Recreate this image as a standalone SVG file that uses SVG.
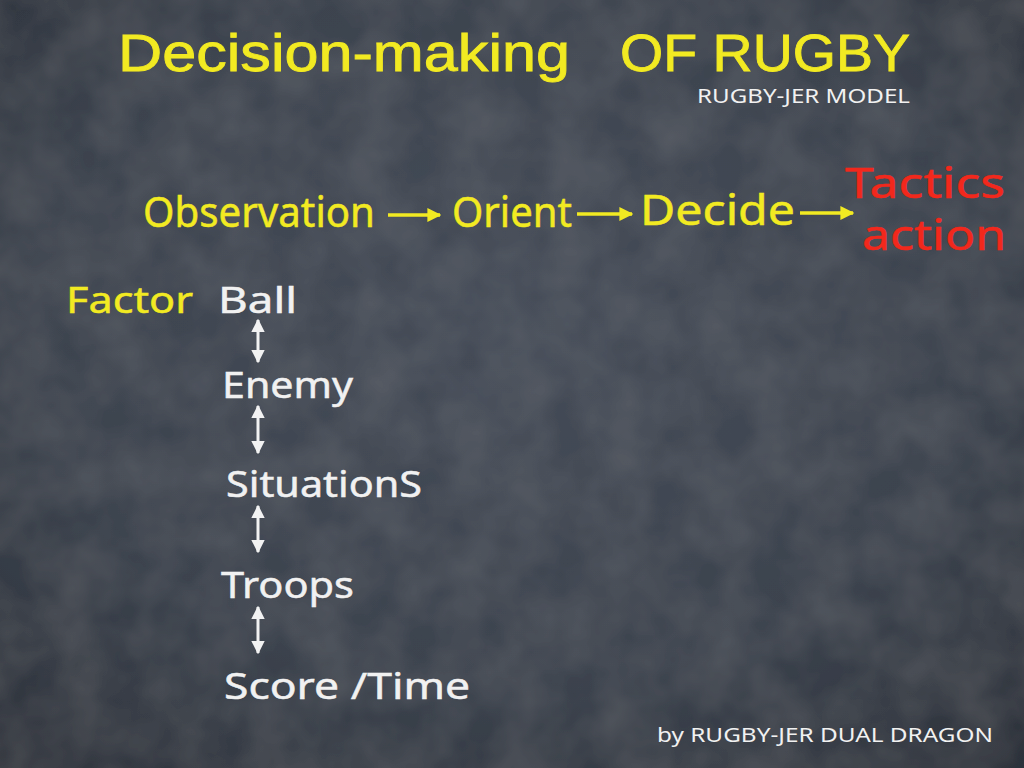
<svg xmlns="http://www.w3.org/2000/svg" width="1024" height="768" viewBox="0 0 1024 768">
  <defs>
    <radialGradient id="bg" cx="50%" cy="42%" r="78%">
      <stop offset="0" stop-color="#454c58"/>
      <stop offset="0.6" stop-color="#3c434e"/>
      <stop offset="1" stop-color="#2b3039"/>
    </radialGradient>
    <filter id="chalk" x="0" y="0" width="100%" height="100%">
      <feTurbulence type="fractalNoise" baseFrequency="0.02" numOctaves="3" seed="4" result="n"/>
      <feColorMatrix in="n" type="matrix" values="0 0 0 0 1  0 0 0 0 1  0 0 0 0 1  0 0 0 0.06 -0.015" result="w"/>
      <feComposite in="w" in2="SourceGraphic" operator="over"/>
    </filter>
    <marker id="ahy" viewBox="0 0 10 10" refX="9" refY="5" markerWidth="4" markerHeight="4" orient="auto" markerUnits="strokeWidth">
      <path d="M0,0 L10,5 L0,10 z" fill="#f2ea22"/>
    </marker>
    <marker id="ahw" viewBox="0 0 10 10" refX="9" refY="5" markerWidth="4.5" markerHeight="4.5" orient="auto-start-reverse" markerUnits="strokeWidth">
      <path d="M0,0 L10,5 L0,10 z" fill="#f2f2f2"/>
    </marker>
    <style>
      text { font-family: "Noto Sans", "Open Sans", sans-serif; stroke-width: 0.5; }
      .y { fill: #f2ea22; stroke: #f2ea22; }
      .w { fill: #f1f1f1; stroke: #f1f1f1; }
      .r { fill: #f2281c; stroke: #f2281c; }
      .title { font-family: "Liberation Sans", Arial, sans-serif; font-size: 51px; stroke-width: 0.8; }
      .small { font-size: 19px; stroke-width: 0; }
      .flow { font-size: 42px; }
      .item { font-size: 37px; }
      .ya { stroke: #f2ea22; stroke-width: 3.5; fill: none; marker-end: url(#ahy); }
      .wa { stroke: #f2f2f2; stroke-width: 3; fill: none; marker-start: url(#ahw); marker-end: url(#ahw); }
    </style>
  </defs>

  <rect width="1024" height="768" fill="url(#bg)" filter="url(#chalk)"/>

  <g id="title">
    <text class="title y" x="118" y="71" textLength="452" lengthAdjust="spacingAndGlyphs">Decision-making</text>
    <text class="title y" x="620" y="71" textLength="290" lengthAdjust="spacingAndGlyphs">OF RUGBY</text>
    <text class="small w" x="697" y="103" textLength="213" lengthAdjust="spacingAndGlyphs">RUGBY-JER MODEL</text>
  </g>

  <g id="node-observation"><text class="flow y" x="143" y="227" textLength="232" lengthAdjust="spacingAndGlyphs">Observation</text></g>
  <g id="node-orient"><text class="flow y" x="452" y="227" textLength="120" lengthAdjust="spacingAndGlyphs">Orient</text></g>
  <g id="node-decide"><text class="flow y" x="640" y="225" textLength="155" lengthAdjust="spacingAndGlyphs">Decide</text></g>
  <g id="node-tactics">
    <text class="flow r" x="845" y="198" textLength="160" lengthAdjust="spacingAndGlyphs">Tactics</text>
    <text class="flow r" x="862" y="250" textLength="144" lengthAdjust="spacingAndGlyphs">action</text>
  </g>

  <g id="label-factor"><text class="item y" x="66" y="313" textLength="127" lengthAdjust="spacingAndGlyphs">Factor</text></g>
  <g id="node-ball"><text class="item w" x="218" y="313" textLength="79" lengthAdjust="spacingAndGlyphs">Ball</text></g>
  <g id="node-enemy"><text class="item w" x="222" y="398" textLength="131" lengthAdjust="spacingAndGlyphs">Enemy</text></g>
  <g id="node-situations"><text class="item w" x="226" y="497" textLength="196" lengthAdjust="spacingAndGlyphs">SituationS</text></g>
  <g id="node-troops"><text class="item w" x="221" y="598" textLength="133" lengthAdjust="spacingAndGlyphs">Troops</text></g>
  <g id="node-score"><text class="item w" x="224" y="699" textLength="246" lengthAdjust="spacingAndGlyphs">Score /Time</text></g>

  <g id="credit"><text class="small w" x="657" y="742" textLength="336" lengthAdjust="spacingAndGlyphs">by RUGBY-JER DUAL DRAGON</text></g>

  <g id="connectors">
    <line class="ya" x1="388" y1="215" x2="440" y2="215"/>
    <line class="ya" x1="577" y1="214" x2="632" y2="214"/>
    <line class="ya" x1="800" y1="213" x2="853" y2="213"/>
    <line class="wa" x1="258" y1="320" x2="258" y2="362"/>
    <line class="wa" x1="258" y1="406" x2="258" y2="453"/>
    <line class="wa" x1="258" y1="506" x2="258" y2="552"/>
    <line class="wa" x1="258" y1="607" x2="258" y2="653"/>
  </g>
</svg>
